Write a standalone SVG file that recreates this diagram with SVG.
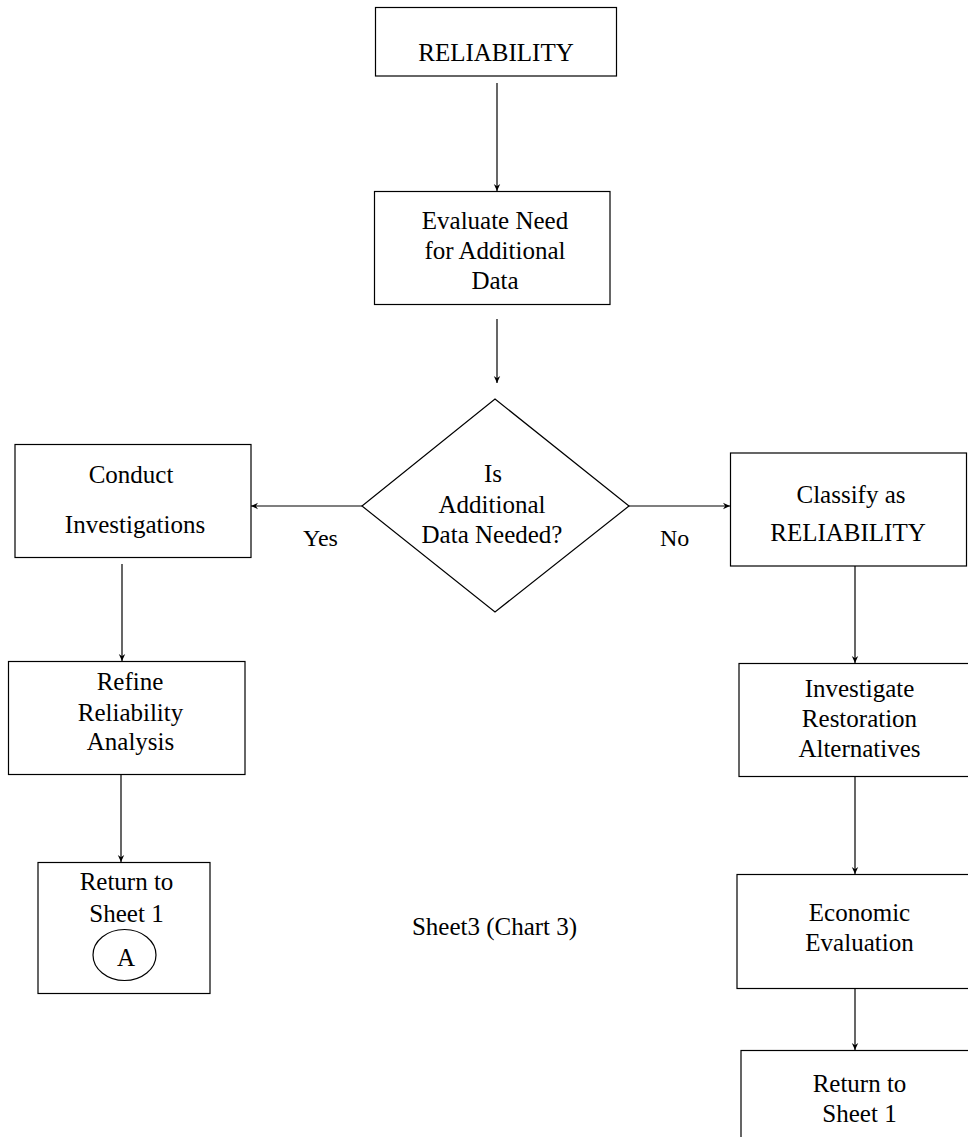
<svg xmlns="http://www.w3.org/2000/svg" width="968" height="1137" viewBox="0 0 968 1137">
<defs>
<marker id="arr" markerUnits="userSpaceOnUse" markerWidth="8" markerHeight="8" refX="7" refY="4" orient="auto">
<path d="M0,0.8 L7,4 L0,7.2 L2.2,4 Z" fill="#000"/>
</marker>
<style>
.box{fill:#fff;stroke:#000;stroke-width:1.2}
.t{font-family:"Liberation Serif","Times New Roman",serif;font-size:25px;fill:#000;text-anchor:middle}
.l{font-family:"Liberation Serif","Times New Roman",serif;font-size:24px;fill:#000}
.c{stroke:#000;stroke-width:1.2;fill:none;marker-end:url(#arr)}
</style>
</defs>
<rect width="968" height="1137" fill="#fff"/>
<g id="connectors">
<line class="c" x1="497" y1="83" x2="497" y2="191"/>
<line class="c" x1="497" y1="319" x2="497" y2="383"/>
<line class="c" x1="362" y1="506" x2="251" y2="506"/>
<line class="c" x1="629" y1="506" x2="730" y2="506"/>
<line class="c" x1="122" y1="564" x2="122" y2="661"/>
<line class="c" x1="121" y1="774" x2="121" y2="862"/>
<line class="c" x1="855" y1="566" x2="855" y2="663"/>
<line class="c" x1="855" y1="776" x2="855" y2="874"/>
<line class="c" x1="855" y1="988" x2="855" y2="1050"/>
</g>
<g id="n-reliability">
<rect class="box" x="375.5" y="7.5" width="241" height="68.5"/>
<text class="t" x="496" y="61">RELIABILITY</text>
</g>
<g id="n-evaluate">
<rect class="box" x="374.5" y="191.5" width="235.5" height="113"/>
<text class="t" x="495" y="229">Evaluate Need</text>
<text class="t" x="495" y="259">for Additional</text>
<text class="t" x="495" y="288.5">Data</text>
</g>
<g id="n-decision">
<polygon class="box" points="495,399 629,506 495,612 362,506"/>
<text class="t" x="493" y="482">Is</text>
<text class="t" x="492" y="513">Additional</text>
<text class="t" x="492" y="543">Data Needed?</text>
</g>
<g id="n-conduct">
<rect class="box" x="15" y="444.5" width="236" height="113"/>
<text class="t" x="131" y="483">Conduct</text>
<text class="t" x="135" y="533">Investigations</text>
</g>
<g id="l-yes"><text class="l" x="303" y="546">Yes</text></g>
<g id="l-no"><text class="l" x="660" y="546">No</text></g>
<g id="n-classify">
<rect class="box" x="730.5" y="453" width="236" height="113"/>
<text class="t" x="851" y="503">Classify as</text>
<text class="t" x="848" y="541">RELIABILITY</text>
</g>
<g id="n-refine">
<rect class="box" x="8.5" y="661.5" width="236.5" height="113"/>
<text class="t" x="130" y="690">Refine</text>
<text class="t" x="130.5" y="721">Reliability</text>
<text class="t" x="130.5" y="750">Analysis</text>
</g>
<g id="n-return-left">
<rect class="box" x="38" y="862.5" width="172" height="131"/>
<text class="t" x="126.5" y="890">Return to</text>
<text class="t" x="126.5" y="922">Sheet 1</text>
<ellipse cx="124.5" cy="955" rx="31.5" ry="25.5" fill="#fff" stroke="#000" stroke-width="1.2"/>
<text class="t" x="126" y="966">A</text>
</g>
<g id="n-investigate">
<rect class="box" x="739" y="663.5" width="260" height="113"/>
<text class="t" x="859.5" y="697">Investigate</text>
<text class="t" x="859.5" y="727">Restoration</text>
<text class="t" x="859.5" y="757">Alternatives</text>
</g>
<g id="n-economic">
<rect class="box" x="737" y="874.5" width="260" height="114"/>
<text class="t" x="859.5" y="921">Economic</text>
<text class="t" x="859.5" y="951">Evaluation</text>
</g>
<g id="n-return-right">
<rect class="box" x="741" y="1050.5" width="260" height="120"/>
<text class="t" x="859.5" y="1092">Return to</text>
<text class="t" x="859.5" y="1122">Sheet 1</text>
</g>
<g id="caption">
<text class="t" x="494.5" y="935">Sheet3 (Chart 3)</text>
</g>
</svg>
